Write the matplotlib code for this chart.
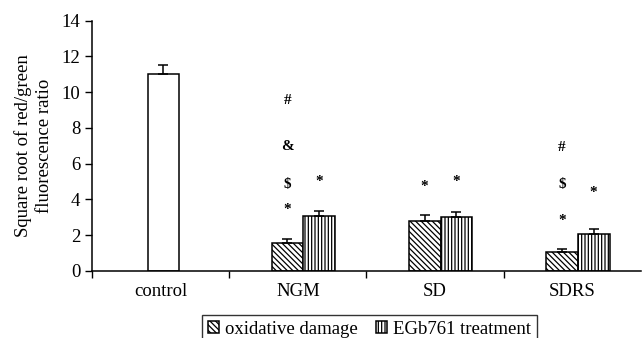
import numpy as np
import matplotlib
matplotlib.use('Agg')
import matplotlib.pyplot as plt

plt.rcParams['font.family'] = ['Liberation Serif', 'DejaVu Serif']
plt.rcParams['hatch.linewidth'] = 0.9

groups = ['control', 'NGM', 'SD', 'SDRS']
# control has a single bar, others have two series
control_val = 11.0
control_err = 0.5
oxid_vals = [1.55, 2.78, 1.03]
oxid_errs = [0.2, 0.33, 0.17]
egb_vals = [3.05, 3.0, 2.05]
egb_errs = [0.3, 0.3, 0.27]

# significance marks above each bar (label, y)
oxid_marks = [[('*', 3.45), ('$', 4.85), ('&', 6.95), ('#', 9.55)],
              [('*', 4.7)],
              [('*', 2.8), ('$', 4.85), ('#', 6.9)]]
egb_marks = [[('*', 5.0)], [('*', 5.0)], [('*', 4.4)]]

fig = plt.figure(figsize=(6.44, 3.38), dpi=100)
ax = fig.add_axes([0.143, 0.199, 0.852, 0.740])

w = 0.232
x = np.arange(1, 4)
ax.bar(0.02, control_val, w, color='white', edgecolor='black', lw=1.1,
       yerr=[[0], [control_err]], capsize=3.5, error_kw=dict(lw=1.1, capthick=1.1))
b1 = ax.bar(x + 0.04 - w / 2, oxid_vals, w, color='white', edgecolor='black', lw=1.1,
            hatch='\\\\\\\\\\\\', label='oxidative damage',
            yerr=[[0] * 3, oxid_errs], capsize=3.5, error_kw=dict(lw=1.1, capthick=1.1))
b2 = ax.bar(x + 0.04 + w / 2, egb_vals, w, color='white', edgecolor='black', lw=1.1,
            hatch='|||||', label='EGb761 treatment',
            yerr=[[0] * 3, egb_errs], capsize=3.5, error_kw=dict(lw=1.1, capthick=1.1))

for i in range(3):
    for s, yy in oxid_marks[i]:
        ax.text(x[i] + 0.04 - w / 2, yy, s, ha='center', va='center', fontsize=11,
                fontweight='bold')
    for s, yy in egb_marks[i]:
        ax.text(x[i] + 0.04 + w / 2, yy, s, ha='center', va='center', fontsize=11,
                fontweight='bold')

ax.set_xlim(-0.5, 3.5)
ax.set_ylim(0, 14)
ax.set_yticks(range(0, 15, 2))
ax.set_xticks(range(4))
ax.set_xticklabels(groups, fontsize=13.5)
ax.set_xticks([-0.5, 0.5, 1.5, 2.5], minor=True)
ax.tick_params(axis='x', which='major', length=0, pad=9)
ax.tick_params(axis='x', which='minor', length=5, width=1, direction='out')
ax.tick_params(axis='y', labelsize=13.5, length=5, width=1, direction='out')
for s in ['top', 'right']:
    ax.spines[s].set_visible(False)
for s in ['left', 'bottom']:
    ax.spines[s].set_linewidth(1.1)

ax.set_ylabel('Square root of red/green\nfluorescence ratio', fontsize=13.5, labelpad=6,
              linespacing=1.35)

leg = fig.legend(handles=[b1, b2], loc='upper left', bbox_to_anchor=(0.314, 0.068),
                 ncol=2, fontsize=13.5, frameon=True, fancybox=False, edgecolor='black',
                 handlelength=0.6, handleheight=0.6, handletextpad=0.3,
                 columnspacing=1.0, borderpad=0.3, borderaxespad=0)
leg.get_frame().set_linewidth(1.0)

fig.savefig('out.png', dpi=100)
